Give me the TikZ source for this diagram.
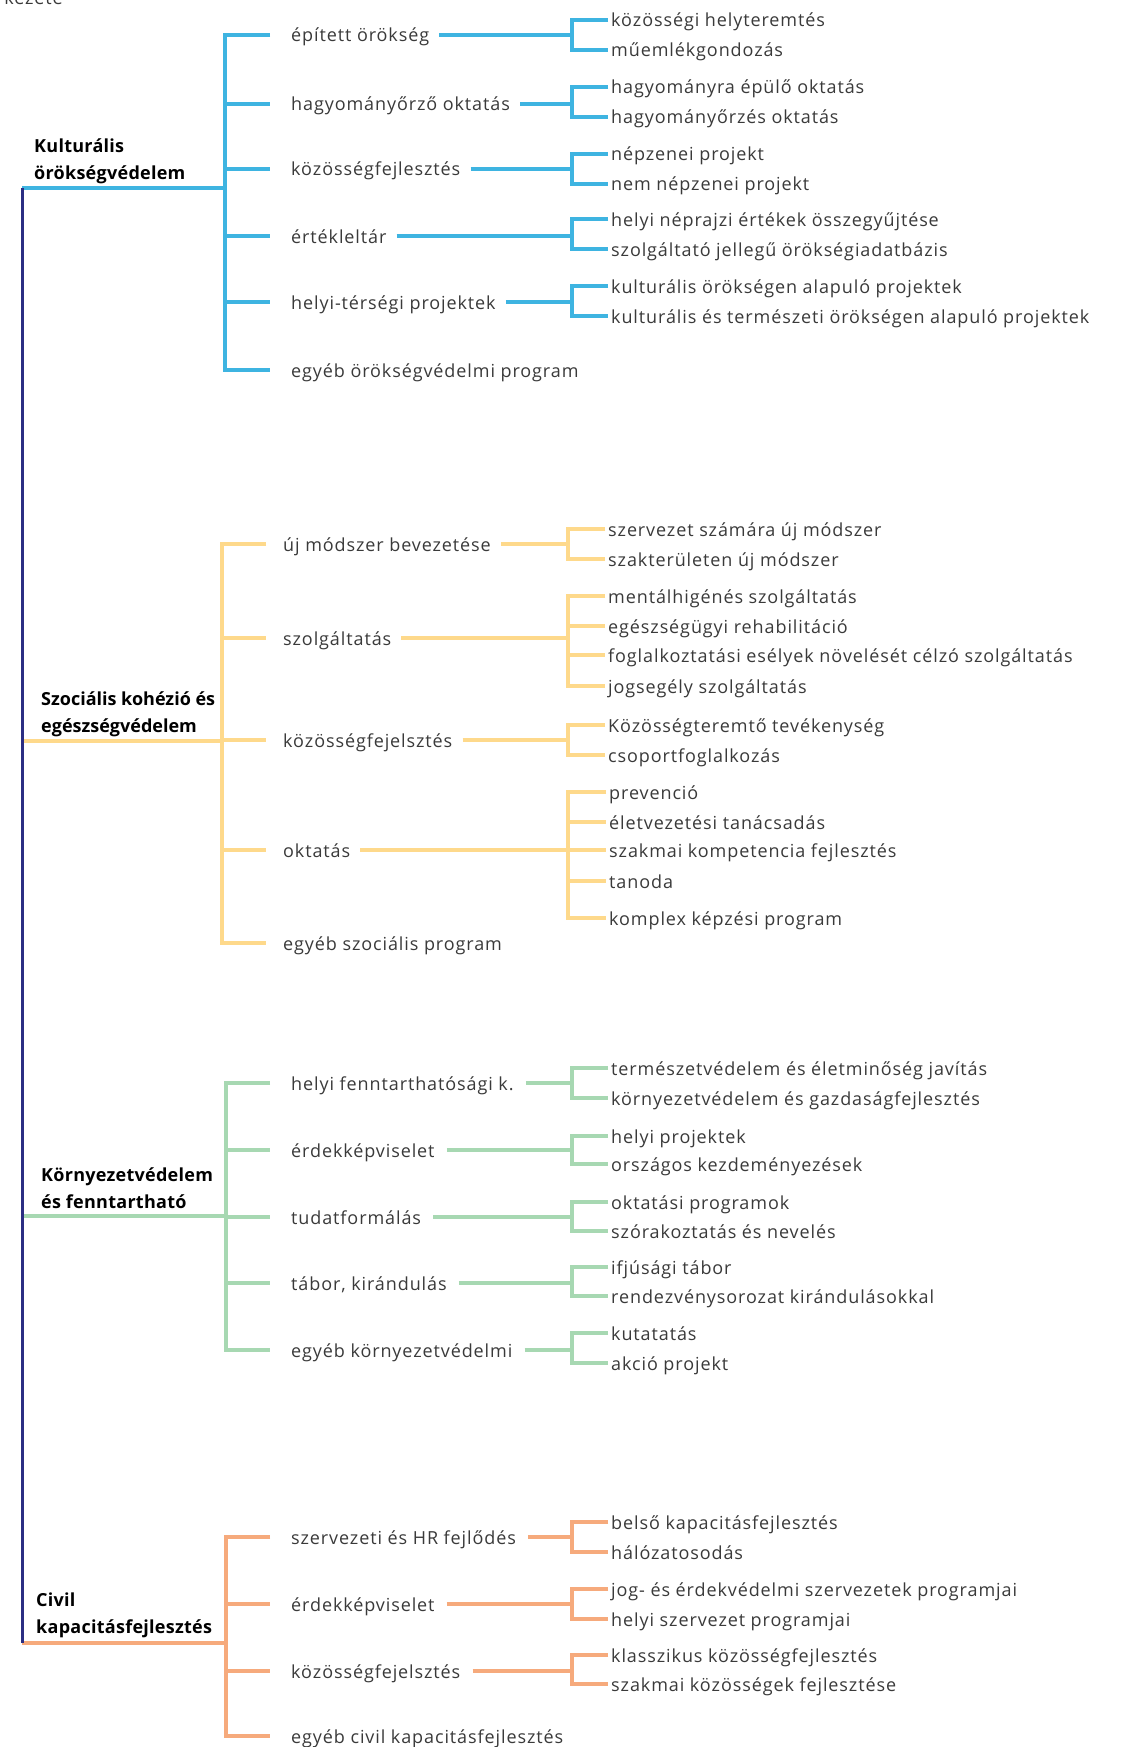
\documentclass[tikz,border=0pt]{standalone}
\usepackage{fontspec}
\setmainfont{Open Sans}[LetterSpace=5]
\newfontfamily\titlefont{Open Sans}[LetterSpace=1.5]
\newfontfamily\titlefontn{Open Sans}[LetterSpace=0]
\definecolor{cK}{RGB}{62,180,225}
\definecolor{cS}{RGB}{254,217,139}
\definecolor{cE}{RGB}{167,216,178}
\definecolor{cC}{RGB}{246,170,124}
\definecolor{navy}{RGB}{43,46,131}
\definecolor{txt}{RGB}{58,58,58}
\tikzset{
  lab/.style={anchor=west, inner sep=0pt, text height=14pt, text depth=0pt,
              text=txt, font=\fontsize{18}{22}\selectfont},
  ttl/.style={anchor=base west, inner sep=0pt, align=left, text=black,
              font=\titlefont\bfseries\fontsize{18}{27}\selectfont},
  ln/.style={line width=3.2pt, line cap=butt, line join=miter},
  mainln/.style={line width=3pt, navy, line cap=butt},
}
\begin{document}
\begin{tikzpicture}[x=1pt,y=-1pt]
\useasboundingbox (0,0) rectangle (1123,1747);
\clip (0,0) rectangle (1123,1747);
\fill[white] (0,0) rectangle (1123,1747);

\node[lab, anchor=base east, text height=13pt] (top) at (63,5) {szerkezete};

% ---------- Kulturális örökségvédelem ----------
\coordinate (M1) at (22,188);
\coordinate (KB) at (225,0);
\coordinate (KR) at (572,0);
\node[ttl] (t1) at (34,179) {Kulturális\\örökségvédelem};
\node[lab] (K1) at (291,35)  {épített örökség};
\node[lab] (K2) at (291,104) {hagyományőrző oktatás};
\node[lab] (K3) at (291,169) {közösségfejlesztés};
\node[lab] (K4) at (291,236) {értékleltár};
\node[lab] (K5) at (291,302) {helyi-térségi projektek};
\node[lab] (K6) at (291,370) {egyéb örökségvédelmi program};
\node[lab] (K1a) at (611,20)  {közösségi helyteremtés};
\node[lab] (K1b) at (611,50)  {műemlékgondozás};
\node[lab] (K2a) at (611,87)  {hagyományra épülő oktatás};
\node[lab] (K2b) at (611,117) {hagyományőrzés oktatás};
\node[lab] (K3a) at (611,154) {népzenei projekt};
\node[lab] (K3b) at (611,184) {nem népzenei projekt};
\node[lab] (K4a) at (611,219) {helyi néprajzi értékek összegyűjtése};
\node[lab] (K4b) at (611,249) {szolgáltató jellegű örökségiadatbázis};
\node[lab] (K5a) at (611,286) {kulturális örökségen alapuló projektek};
\node[lab] (K5b) at (611,316) {kulturális és természeti örökségen alapuló projektek};

\begin{scope}[ln, cK]
\draw (M1) -- (KB |- M1);
\draw ([xshift=-21pt]K1.west) -- (KB |- K1.west) -- (KB |- K6.west) -- ([xshift=-21pt]K6.west);
\foreach \n in {2,...,5} \draw (KB |- K\n.west) -- ([xshift=-21pt]K\n.west);
\foreach \n in {1,...,5} {
  \draw ([xshift=10pt]K\n.east) -- (KR |- K\n.east);
  \draw ([xshift=-3pt]K\n a.west) -- (KR |- K\n a.west) -- (KR |- K\n b.west) -- ([xshift=-3pt]K\n b.west);
}
\end{scope}

% ---------- Szociális kohézió ----------
\coordinate (M2) at (22,741);
\coordinate (SB) at (222,0);
\coordinate (SR) at (568,0);
\node[ttl, font=\titlefontn\bfseries\fontsize{18}{27}\selectfont] (t2) at (41,732) {Szociális kohézió és\\egészségvédelem};
\node[lab] (S1) at (283,544) {új módszer bevezetése};
\node[lab] (S2) at (283,638) {szolgáltatás};
\node[lab] (S3) at (283,740) {közösségfejelsztés};
\node[lab] (S4) at (283,850) {oktatás};
\node[lab] (S5) at (283,943) {egyéb szociális program};
\node[lab] (S1a) at (608,529) {szervezet számára új módszer};
\node[lab] (S1b) at (608,559) {szakterületen új módszer};
\node[lab] (S2a) at (608,596) {mentálhigénés szolgáltatás};
\node[lab] (S2b) at (608,626) {egészségügyi rehabilitáció};
\node[lab] (S2c) at (608,655) {foglalkoztatási esélyek növelését célzó szolgáltatás};
\node[lab] (S2d) at (608,686) {jogsegély szolgáltatás};
\node[lab] (S3a) at (608,725) {Közösségteremtő tevékenység};
\node[lab] (S3b) at (608,755) {csoportfoglalkozás};
\node[lab] (S4a) at (609,792) {prevenció};
\node[lab] (S4b) at (609,822) {életvezetési tanácsadás};
\node[lab] (S4c) at (609,850) {szakmai kompetencia fejlesztés};
\node[lab] (S4d) at (609,881) {tanoda};
\node[lab] (S4e) at (609,918) {komplex képzési program};

\begin{scope}[ln, cS]
\draw (M2) -- (SB |- M2);
\draw ([xshift=-17pt]S1.west) -- (SB |- S1.west) -- (SB |- S5.west) -- ([xshift=-17pt]S5.west);
\foreach \n in {2,...,4} \draw (SB |- S\n.west) -- ([xshift=-17pt]S\n.west);
\foreach \n in {1,...,4} \draw ([xshift=10pt]S\n.east) -- (SR |- S\n.east);
\draw ([xshift=-3pt]S1a.west) -- (SR |- S1a.west) -- (SR |- S1b.west) -- ([xshift=-3pt]S1b.west);
\draw ([xshift=-3pt]S2a.west) -- (SR |- S2a.west) -- (SR |- S2d.west) -- ([xshift=-3pt]S2d.west);
\draw (SR |- S2b.west) -- ([xshift=-3pt]S2b.west);
\draw (SR |- S2c.west) -- ([xshift=-3pt]S2c.west);
\draw ([xshift=-3pt]S3a.west) -- (SR |- S3a.west) -- (SR |- S3b.west) -- ([xshift=-3pt]S3b.west);
\draw ([xshift=-3pt]S4a.west) -- (SR |- S4a.west) -- (SR |- S4e.west) -- ([xshift=-3pt]S4e.west);
\foreach \l in {b,c,d} \draw (SR |- S4\l.west) -- ([xshift=-3pt]S4\l.west);
\end{scope}

% ---------- Környezetvédelem ----------
\coordinate (M3) at (22,1216);
\coordinate (EB) at (226,0);
\coordinate (ER) at (572,0);
\node[ttl] (t3) at (41,1208) {Környezetvédelem\\és fenntartható};
\node[lab] (E1) at (291,1083) {helyi fenntarthatósági k.};
\node[lab] (E2) at (291,1150) {érdekképviselet};
\node[lab] (E3) at (291,1217) {tudatformálás};
\node[lab] (E4) at (291,1283) {tábor, kirándulás};
\node[lab] (E5) at (291,1350) {egyéb környezetvédelmi};
\node[lab] (E1a) at (611,1068) {természetvédelem és életminőség javítás};
\node[lab] (E1b) at (611,1098) {környezetvédelem és gazdaságfejlesztés};
\node[lab] (E2a) at (611,1136) {helyi projektek};
\node[lab] (E2b) at (611,1164) {országos kezdeményezések};
\node[lab] (E3a) at (611,1202) {oktatási programok};
\node[lab] (E3b) at (611,1231) {szórakoztatás és nevelés};
\node[lab] (E4a) at (611,1267) {ifjúsági tábor};
\node[lab] (E4b) at (611,1296) {rendezvénysorozat kirándulásokkal};
\node[lab] (E5a) at (611,1333) {kutatatás};
\node[lab] (E5b) at (611,1363) {akció projekt};

\begin{scope}[ln, cE]
\draw (M3) -- (EB |- M3);
\draw ([xshift=-21pt]E1.west) -- (EB |- E1.west) -- (EB |- E5.west) -- ([xshift=-21pt]E5.west);
\foreach \n in {2,...,4} \draw (EB |- E\n.west) -- ([xshift=-21pt]E\n.west);
\foreach \n in {1,...,5} {
  \draw ([xshift=12pt]E\n.east) -- (ER |- E\n.east);
  \draw ([xshift=-3pt]E\n a.west) -- (ER |- E\n a.west) -- (ER |- E\n b.west) -- ([xshift=-3pt]E\n b.west);
}
\end{scope}

% ---------- Civil kapacitásfejlesztés ----------
\coordinate (M4) at (22,1643);
\coordinate (CB) at (226,0);
\coordinate (CR) at (572,0);
\node[ttl] (t4) at (36,1633) {Civil\\kapacitásfejlesztés};
\node[lab] (C1) at (291,1537) {szervezeti és HR fejlődés};
\node[lab] (C2) at (291,1604) {érdekképviselet};
\node[lab] (C3) at (291,1671) {közösségfejelsztés};
\node[lab] (C4) at (291,1736) {egyéb civil kapacitásfejlesztés};
\node[lab] (C1a) at (611,1522) {belső kapacitásfejlesztés};
\node[lab] (C1b) at (611,1552) {hálózatosodás};
\node[lab] (C2a) at (611,1589) {jog- és érdekvédelmi szervezetek programjai};
\node[lab] (C2b) at (611,1619) {helyi szervezet programjai};
\node[lab] (C3a) at (611,1655) {klasszikus közösségfejlesztés};
\node[lab] (C3b) at (611,1684) {szakmai közösségek fejlesztése};

\begin{scope}[ln, cC]
\draw (M4) -- (CB |- M4);
\draw ([xshift=-21pt]C1.west) -- (CB |- C1.west) -- (CB |- C4.west) -- ([xshift=-21pt]C4.west);
\foreach \n in {2,3} \draw (CB |- C\n.west) -- ([xshift=-21pt]C\n.west);
\foreach \n in {1,...,3} {
  \draw ([xshift=12pt]C\n.east) -- (CR |- C\n.east);
  \draw ([xshift=-3pt]C\n a.west) -- (CR |- C\n a.west) -- (CR |- C\n b.west) -- ([xshift=-3pt]C\n b.west);
}
\end{scope}

% ---------- main spine ----------
\draw[mainln] (M1) -- (M4);
\end{tikzpicture}
\end{document}
